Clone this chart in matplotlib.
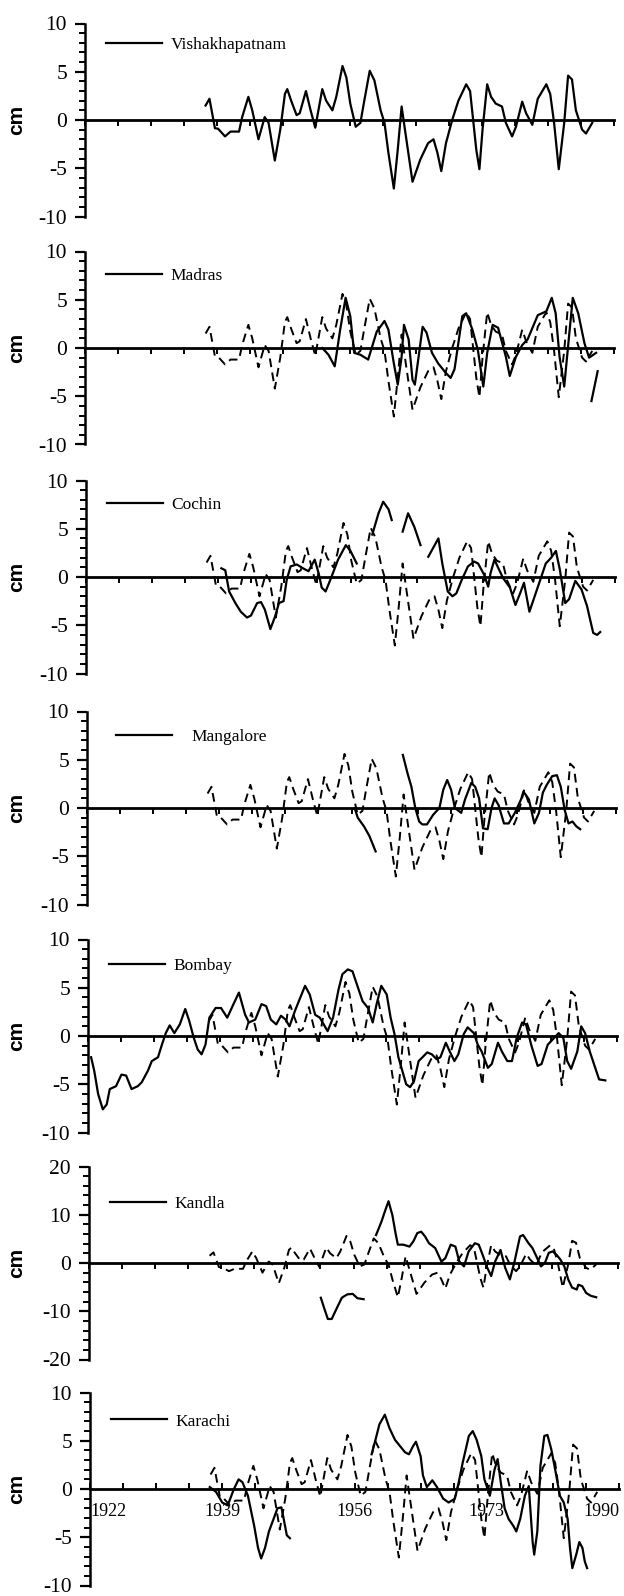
import numpy as np
import matplotlib
matplotlib.use("Agg")
import matplotlib.pyplot as plt
from matplotlib.ticker import MultipleLocator

plt.rcParams['axes.unicode_minus'] = False
nan = np.nan

# ---------------- data (cm anomalies) ----------------
vis_years = [1937.5, 1938.0, 1938.7, 1939.1, 1940.0, 1940.7, 1941.8, 1942.2, 1943.0, 1943.5,
             1944.3, 1945.1, 1945.6, 1946.4, 1947.1, 1947.7, 1948.0, 1948.5, 1949.2, 1949.6,
             1950.4, 1951.0, 1951.6, 1952.5, 1953.0, 1953.8, 1954.3, 1955.1, 1955.6, 1956.1,
             1956.8, 1957.4, 1957.9, 1958.6, 1959.2, 1960.0, 1960.5, 1961.0, 1961.7, 1962.2,
             1962.7, 1963.2, 1964.1, 1965.1, 1966.1, 1966.8, 1967.3, 1967.8, 1968.4, 1969.2,
             1970.0, 1971.0, 1971.5, 1972.3, 1972.7, 1973.1, 1973.7, 1974.2, 1974.8, 1975.6,
             1976.1, 1976.9, 1977.4, 1978.2, 1978.7, 1979.5, 1980.2, 1981.3, 1981.8, 1982.3,
             1982.9, 1983.6, 1984.1, 1984.6, 1985.1, 1985.9, 1986.4, 1987.2]
vis_cm = [1.5, 2.2, -0.85, -0.9, -1.7, -1.2, -1.2, 0.3, 2.4, 1.0,
          -2.0, 0.3, -0.3, -4.2, -1.0, 2.7, 3.2, 2.0, 0.5, 0.7,
          3.0, 1.0, -0.8, 3.2, 2.0, 1.0, 2.4, 5.6, 4.4, 1.7,
          -0.7, -0.3, 2.0, 5.1, 4.1, 1.0, -0.3, -3.4, -7.1, -3.1,
          1.4, -1.4, -6.4, -4.1, -2.4, -2.0, -3.4, -5.3, -2.4, 0.0,
          2.0, 3.7, 3.0, -3.1, -5.1, -1.0, 3.7, 2.4, 1.7, 1.4,
          -0.3, -1.7, -0.7, 1.9, 0.7, -0.5, 2.2, 3.7, 2.7, -0.3,
          -5.1, -0.3, 4.6, 4.2, 1.0, -1.0, -1.4, -0.3]

madras_years = [1952.5, 1953.3, 1954.1, 1954.8, 1955.5, 1956.1, 1956.6, 1957.4, 1958.4, 1959.5,
                1960.5, 1961.0, 1961.7, 1962.2, 1962.7, 1963.0, 1963.6, 1964.1, 1964.4, 1965.4,
                1965.9, 1966.6, 1967.4, 1968.4, 1969.0, 1969.5, 1970.5, 1971.0, 1971.8, 1972.5,
                1973.2, 1973.7, 1974.4, 1975.1, 1976.1, 1976.6, 1977.4, 1978.2, 1978.9, 1980.2,
                1981.3, 1982.0, 1982.5, 1983.0, 1983.6, 1984.1, 1984.7, 1985.4, 1986.2, 1986.8,
                1987.7, nan, 1987.1, 1987.9]
madras_cm = [0.0, -0.7, -1.9, 1.9, 5.2, 3.3, -0.5, -0.7, -1.2, 1.7,
             2.8, 1.9, -1.6, -3.8, -0.9, 2.4, 0.9, -3.3, -3.8, 2.2,
             1.6, -0.5, -1.6, -2.6, -3.1, -2.2, 3.3, 3.6, 1.9, -0.2,
             -4.0, -0.5, 2.4, 2.1, -0.9, -2.9, -0.9, 0.3, 0.9, 3.4,
             3.8, 5.2, 3.6, -0.9, -4.0, 0.2, 5.2, 3.6, 0.5, -1.0,
             -0.5, nan, -5.5, -2.4]

cochin_years = [1939.4, 1939.9, 1940.4, 1941.2, 1941.9, 1942.7, 1943.2, 1944.0, 1944.5, 1945.0,
                1945.7, 1946.3, 1946.8, 1947.4, 1947.8, 1948.3, 1949.1, 1949.9, 1950.6, 1951.4,
                1951.9, 1952.3, 1952.8, 1953.5, 1954.4, 1955.4, 1956.0, 1956.8, nan,
                1958.8, 1959.6, 1960.2, 1960.9, 1961.3, nan,
                1962.7, 1963.4, 1964.2, 1965.0, nan,
                1966.0, 1967.3, 1967.8, 1968.5, 1969.1, 1969.6, 1970.3, 1971.1, 1971.9, 1972.4,
                1973.2, 1973.7, 1974.0, 1974.5, 1974.9, 1975.6, 1976.5, 1977.2, 1977.8, 1978.3,
                1979.0, 1979.8, 1980.6, 1981.1, 1981.8, 1982.4, 1982.9, 1983.6, 1984.1, 1984.9,
                1985.7, 1986.4, 1987.2, 1987.7, 1988.1]
cochin_cm = [0.9, 0.7, -1.5, -2.7, -3.6, -4.2, -4.0, -2.7, -2.6, -3.4,
             -5.4, -4.1, -2.7, -2.5, -0.3, 1.1, 1.3, 0.9, 0.6, 1.8,
             0.4, -1.1, -1.5, -0.1, 1.8, 3.3, 2.7, 1.4, nan,
             4.4, 6.6, 7.8, 7.0, 5.9, nan,
             4.7, 6.6, 5.2, 3.3, nan,
             2.1, 4.0, 1.4, -1.5, -2.0, -1.7, -0.3, 1.1, 1.6, 1.4,
             0.2, -1.0, 0.4, 1.8, 1.1, -0.1, -1.1, -2.9, -1.7, -0.6,
             -3.6, -1.7, 0.2, 1.4, 2.0, 2.7, 0.8, -2.7, -2.3, -0.4,
             -1.3, -3.0, -5.8, -6.0, -5.7]

mangalore_years = [1956.4, 1956.8, 1957.6, 1958.3, 1959.1, nan,
                   1962.6, 1963.2, 1963.7, 1964.2, 1964.7, 1965.1, 1965.7, 1966.5, 1967.3, 1967.8,
                   1968.3, 1968.8, 1969.3, 1970.1, 1970.6, 1971.4, 1971.9, 1972.4, 1972.9, 1973.5,
                   1974.0, 1974.4, 1974.9, 1975.6, 1976.2, 1977.0, 1977.8, 1978.1, 1978.8, 1979.5,
                   1980.1, 1980.6, 1981.1, 1981.8, 1982.4, 1982.9, 1983.4, 1983.9, 1984.4, 1984.9,
                   1985.4]
mangalore_cm = [0.0, -1.0, -1.9, -2.9, -4.5, nan,
                5.5, 3.6, 2.2, 0.0, -1.4, -1.7, -1.7, -0.7, 0.0, 1.9,
                2.9, 1.9, 0.0, -0.5, 0.9, 2.6, 2.2, 1.0, -2.1, -2.2,
                0.0, 1.0, 0.3, -1.6, -1.6, -0.5, 0.9, 1.7, 0.9, -1.6,
                -0.5, 1.6, 2.4, 3.3, 3.4, 2.2, -0.2, -1.6, -1.4, -1.9,
                -2.2]

bombay_years = [1922.4, 1922.8, 1923.3, 1923.9, 1924.4, 1924.8, 1925.6, 1926.3, 1926.9, 1927.6,
                1928.4, 1928.9, 1929.7, 1930.2, 1931.0, 1931.5, 1932.0, 1932.5, 1933.1, 1933.8,
                1934.5, 1935.0, 1935.6, 1936.1, 1936.6, 1937.1, 1937.6, 1938.4, 1939.1, 1939.9,
                1940.7, 1941.4, 1942.2, 1942.7, 1943.5, 1944.3, 1944.9, 1945.5, 1946.2, 1946.8,
                1947.4, 1947.9, 1948.6, 1949.3, 1949.9, 1950.5, 1951.2, 1951.8, 1952.3, 1952.8,
                1953.5, 1954.2, 1954.7, 1955.4, 1956.0, 1956.5, 1957.3, 1958.0, 1958.6, 1959.1,
                1959.7, 1960.4, 1960.9, 1961.4, 1961.9, 1962.4, 1962.9, 1963.4, 1963.9, 1964.5,
                1965.0, 1965.6, 1966.2, 1966.8, 1967.3, 1968.0, 1968.5, 1969.1, 1969.6, 1970.3,
                1970.8, 1971.6, 1972.1, 1972.6, 1973.4, 1973.9, 1974.7, 1975.2, 1975.9, 1976.5,
                1977.1, 1977.8, 1978.3, 1979.0, 1979.8, 1980.3, 1981.1, 1981.8, 1982.5, 1983.1,
                1983.6, 1984.1, 1984.9, 1985.4, 1985.9, 1986.5, 1987.2, 1987.7, 1988.5]
bombay_cm = [-2.2, -3.6, -6.0, -7.6, -7.1, -5.5, -5.2, -4.0, -4.1, -5.5,
             -5.2, -4.8, -3.6, -2.6, -2.2, -0.9, 0.3, 1.1, 0.3, 1.2,
             2.8, 1.6, -0.2, -1.4, -1.9, -0.9, 1.9, 2.9, 2.9, 1.9,
             3.3, 4.5, 2.2, 1.4, 1.7, 3.3, 3.1, 1.7, 1.2, 2.1,
             1.7, 1.0, 2.6, 4.0, 5.2, 4.3, 2.2, 1.9, 1.2, 0.5,
             1.9, 4.8, 6.4, 6.9, 6.7, 5.5, 3.6, 2.9, 1.4, 3.3,
             5.2, 4.3, 1.9, 0.2, -2.2, -3.6, -5.0, -5.3, -4.7, -2.6,
             -2.2, -1.7, -1.9, -2.4, -2.2, -0.7, -1.6, -2.6, -1.9, 0.2,
             0.9, 0.3, -0.9, -1.6, -3.3, -2.9, -0.7, -1.6, -2.6, -2.6,
             -0.2, 1.4, 1.2, -1.0, -3.1, -2.9, -0.9, -0.3, 0.3, -0.2,
             -2.6, -3.4, -1.6, 1.0, 0.3, -1.6, -3.3, -4.5, -4.6]

kandla_years = [1951.8, 1952.2, 1952.7, 1953.2, 1953.9, 1954.5, 1955.2, 1955.9, 1956.5, 1957.3, nan,
                1958.9, 1959.6, 1960.1, 1960.5, 1961.0, 1961.4, 1961.7, 1962.4, 1963.2, 1963.7,
                1964.2, 1964.7, 1965.2, 1965.7, 1966.5, 1967.3, 1967.8, 1968.5, 1969.1, 1969.6,
                1970.2, 1970.8, 1971.6, 1972.1, 1972.6, 1973.2, 1973.7, 1974.2, 1974.9, 1975.5,
                1976.1, 1976.7, 1977.4, 1977.8, 1978.5, 1979.0, 1979.5, 1980.1, 1980.6, 1981.1,
                1981.6, 1982.1, 1982.6, 1983.1, 1983.6, 1984.1, 1984.7, 1984.9, 1985.4, 1985.9,
                1986.5, 1987.2]
kandla_cm = [-7.2, -9.2, -11.6, -11.6, -9.2, -7.2, -6.5, -6.4, -7.3, -7.5, nan,
             5.8, 8.6, 11.0, 12.8, 9.9, 6.2, 3.8, 3.8, 3.4, 4.5,
             6.2, 6.5, 5.5, 4.1, 3.1, 0.3, 1.0, 3.8, 3.4, 0.3,
             -0.7, 2.4, 4.1, 3.8, 1.7, -1.0, -2.7, 0.3, 2.7, -1.0,
             -3.4, 0.3, 5.5, 5.8, 4.1, 3.1, 1.4, -0.7, 0.0, 2.1,
             2.4, 1.7, 0.7, -0.7, -3.4, -5.1, -5.5, -4.5, -4.8, -6.2,
             -6.8, -7.1]

karachi_years = [1937.4, 1938.2, 1939.0, 1939.7, 1940.5, 1941.1, 1941.6, 1942.3, 1943.1, 1943.6,
                 1944.0, 1944.5, 1945.0, 1945.6, 1946.1, 1946.6, 1946.9, 1947.3, 1947.7, nan,
                 1958.2, 1958.7, 1959.2, 1959.9, 1960.5, 1961.2, 1961.7, 1962.5, 1963.0, 1963.5,
                 1963.9, 1964.5, 1964.8, 1965.3, 1966.0, 1966.6, 1967.4, 1968.1, 1968.9, 1969.4,
                 1969.9, 1970.7, 1971.2, 1971.7, 1972.3, 1972.7, 1973.4, 1974.0, 1974.4, 1974.8,
                 1975.3, 1975.8, 1976.4, 1976.8, 1977.3, 1977.9, 1978.4, 1978.9, 1979.1, 1979.5,
                 1979.9, 1980.4, 1980.8, 1981.3, 1981.8, 1982.4, 1982.9, 1983.4, 1983.7, 1984.0,
                 1984.5, 1984.9, 1985.3, 1985.6, 1985.9]
karachi_cm = [0.2, -0.3, -1.4, -1.7, 0.0, 1.0, 0.7, -0.7, -3.8, -6.1,
              -7.2, -6.1, -4.4, -3.1, -2.0, -1.9, -3.1, -4.8, -5.1, nan,
              3.6, 5.1, 6.7, 7.7, 6.3, 5.1, 4.6, 3.8, 3.6, 4.4,
              4.9, 3.4, 1.4, 0.2, 0.9, 0.2, -1.0, -1.4, -1.0, 0.7,
              2.7, 5.5, 6.0, 5.1, 3.4, 1.0, -0.7, 2.0, 3.1, 0.7,
              -2.0, -3.1, -3.8, -4.4, -3.1, -0.7, 0.3, -5.5, -6.8, -4.4,
              2.4, 5.5, 5.6, 4.1, 2.0, -0.7, -1.4, -3.1, -6.1, -8.2,
              -6.8, -5.5, -6.1, -7.5, -8.2]

stations = ['Vishakhapatnam', 'Madras', 'Cochin', 'Mangalore', 'Bombay', 'Kandla', 'Karachi']
station_years = [vis_years, madras_years, cochin_years, mangalore_years,
                 bombay_years, kandla_years, karachi_years]
station_cm = [vis_cm, madras_cm, cochin_cm, mangalore_cm, bombay_cm, kandla_cm, karachi_cm]
y_limits = [10, 10, 10, 10, 10, 20, 10]
xtick_labels = ['1922', '1939', '1956', '1973', '1990']

# ---------------- layout ----------------
W, H = 624, 1596
fig = plt.figure(figsize=(W / 100, H / 100), dpi=100)

zero_px = [120, 348, 577, 808, 1036, 1263, 1489]
left_px = [85, 85, 86, 87, 88, 89, 90]
half_px = 96.5
width_px = 529
leg_x = [0.04, 0.04, 0.04, 0.055, 0.04, 0.04, 0.04]
leg_pad = [0.5, 0.5, 0.5, 1.15, 0.5, 0.5, 0.5]
leg_y = [0.89, 0.875, 0.875, 0.87, 0.865, 0.805, 0.85]

serif = ['Liberation Serif', 'DejaVu Serif']
xt = np.linspace(1922, 1990, 17)

for i, name in enumerate(stations):
    y0 = zero_px[i]
    ax = fig.add_axes([left_px[i] / W, 1 - (y0 + half_px) / H,
                       width_px / W, 2 * half_px / H])
    lim = y_limits[i]
    ax.set_xlim(1922, 1990)
    ax.set_ylim(-lim, lim)

    if i > 0:
        ax.plot(vis_years, vis_cm, color='black', lw=1.4,
                linestyle=(0, (4.5, 2.8)))
    ln, = ax.plot(station_years[i], station_cm[i], color='black', lw=1.6,
                  solid_joinstyle='round')

    for s in ('top', 'right'):
        ax.spines[s].set_visible(False)
    ax.spines['bottom'].set_position(('data', 0))
    ax.spines['bottom'].set_linewidth(2.0)
    ax.spines['left'].set_linewidth(1.8)

    yt = [-lim, -lim / 2, 0, lim / 2, lim]
    ax.set_yticks(yt)
    ax.set_yticklabels([str(int(v)) for v in yt])
    ax.yaxis.set_minor_locator(MultipleLocator(lim / 10))
    ax.tick_params(axis='y', which='major', direction='out', length=7, width=1.6,
                   pad=6, labelsize=15.5)
    ax.tick_params(axis='y', which='minor', direction='out', length=4.5, width=1.4)
    for t in ax.get_yticklabels():
        t.set_family(serif)

    ax.set_xticks(xt)
    if i == len(stations) - 1:
        labs = [''] * len(xt)
        for k, lab in enumerate(xtick_labels):
            labs[4 * k] = lab
        ax.set_xticklabels(labs, family=serif, fontsize=13)
        ax.tick_params(axis='x', direction='in', length=4, width=1.4, pad=10)
        tl = ax.get_xticklabels()
        tl[0].set_ha('left')
        tl[-1].set_ha('right')
    else:
        ax.set_xticklabels([])
        ax.tick_params(axis='x', direction='out', length=4, width=1.4)

    ax.set_ylabel('cm', family=['Liberation Sans', 'DejaVu Sans'], fontsize=15,
                  fontweight='bold')
    ax.yaxis.set_label_coords((26 - left_px[i]) / width_px, 0.5)

    ax.legend([ln], [name], loc='center left', bbox_to_anchor=(leg_x[i], leg_y[i]),
              frameon=False, borderpad=0, borderaxespad=0,
              handlelength=3.2, handletextpad=leg_pad[i],
              prop={'family': serif, 'size': 12.5})

fig.savefig('out.png', dpi=100)
